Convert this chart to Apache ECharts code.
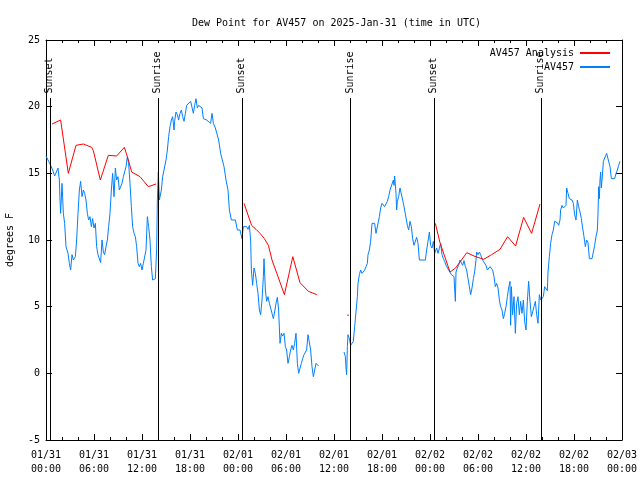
<!DOCTYPE html>
<html>
<head>
<meta charset="utf-8">
<script src="https://cdn.jsdelivr.net/npm/echarts@6/dist/echarts.min.js"></script>
<style>html,body{margin:0;padding:0;background:#fff}#c{width:640px;height:480px}</style>
</head>
<body>
<div id="c"></div>
<script>
// ---- data (hours since 2025-01-31 00:00 UTC) ----
var xTickLabels = ['01/31\n00:00','01/31\n06:00','01/31\n12:00','01/31\n18:00','02/01\n00:00','02/01\n06:00','02/01\n12:00','02/01\n18:00','02/02\n00:00','02/02\n06:00','02/02\n12:00','02/02\n18:00','02/03\n00:00'];
var yTicks = [-5, 0, 5, 10, 15, 20, 25];

var sunHours = [0.54, 14.04, 24.54, 38.09, 48.54, 61.92];
var sunNames = ['Sunset', 'Sunrise', 'Sunset', 'Sunrise', 'Sunset', 'Sunrise'];

var analysisHours = [0.75,1.83,2.79,3.75,4.67,5.71,5.92,6.79,7.79,8.83,9.79,10.17,10.71,11.75,12.79,13.75, 19,
  24.75,25.7,26.25,26.75,27.3,27.8,28.25,28.85,29.8,30.85,31.75,32.8,33.85, 40,
  48.67,49.25,50.5,51.2,52.6,53.5,54.7,55.7,56.75,57.7,58.7,59.7,60.7,61.75];
var analysisValues = [18.7,19.0,15.0,17.1,17.2,16.95,16.7,14.5,16.35,16.3,16.95,16.25,15.1,14.75,14.0,14.2, null,
  12.75,11.1,10.8,10.5,10.1,9.6,8.5,7.5,5.9,8.75,6.8,6.15,5.9, null,
  11.25,9.8,7.6,7.9,9.05,8.8,8.55,8.9,9.3,10.25,9.55,11.7,10.5,12.7];
var analysisLoneHour = [37.75];
var analysisLoneValue = [4.35];

var obsHours = [0.0,0.08,0.33,0.58,0.83,1.08,1.33,1.5,1.67,1.75,1.83,2.0,2.17,2.33,2.5,2.75,2.92,3.08,3.25,3.42,3.67,3.83,4.0,4.17,4.33,4.5,4.67,4.83,5.0,5.17,5.33,5.5,5.67,5.83,6.0,6.17,6.33,6.5,6.67,6.83,7.0,7.17,7.33,7.5,7.67,7.83,8.0,8.17,8.33,8.5,8.67,8.83,9.0,9.17,9.33,9.5,9.67,9.83,10.0,10.17,10.33,10.5,10.67,10.83,11.0,11.17,11.33,11.5,11.67,11.83,12.0,12.17,12.33,12.5,12.67,12.83,13.0,13.17,13.33,13.5,13.67,13.83,13.92,14.04,14.17,14.25,14.42,14.58,14.75,15.0,15.17,15.33,15.5,15.67,15.83,16.0,16.08,16.25,16.42,16.58,16.75,16.92,17.08,17.25,17.42,17.58,17.83,18.08,18.25,18.42,18.58,18.75,18.92,19.08,19.25,19.5,19.67,19.88,20.08,20.33,20.58,20.75,20.92,21.17,21.33,21.58,21.83,22.08,22.25,22.5,22.75,22.92,23.17,23.67,23.92,24.25,24.42,24.5,24.67,24.83,25.08,25.25,25.42,25.58,25.67,25.83,26.0,26.17,26.33,26.5,26.67,26.83,27.0,27.17,27.25,27.42,27.58,27.75,27.92,28.08,28.25,28.42,28.58,28.75,28.92,29.08,29.25,29.42,29.58,29.75,29.92,30.08,30.25,30.42,30.58,30.75,30.92,31.08,31.25,31.42,31.58,31.75,31.92,32.08,32.25,32.42,32.58,32.75,32.92,33.08,33.25,33.42,33.58,33.75,33.92,34.08,
  35.5,
  37.25,37.42,37.5,37.58,37.67,37.75,37.92,38.08,38.25,38.42,38.58,38.75,38.92,39.0,39.17,39.33,39.5,39.67,39.83,40.0,40.17,40.25,40.42,40.58,40.75,40.92,41.08,41.25,41.5,41.67,41.83,42.0,42.17,42.33,42.5,42.67,42.83,43.0,43.17,43.25,43.42,43.5,43.58,43.75,43.83,43.92,44.08,44.25,44.5,44.67,44.83,45.08,45.17,45.33,45.5,45.67,45.83,46.0,46.17,46.33,46.5,46.67,47.0,47.42,47.58,47.75,47.92,48.08,48.25,48.42,48.58,48.67,48.83,49.0,49.17,49.33,49.5,49.67,49.83,50.0,50.17,50.33,50.5,50.67,50.83,51.0,51.17,51.25,51.42,51.58,51.75,51.92,52.08,52.25,52.42,52.58,52.75,52.92,53.08,53.25,53.42,53.58,53.75,53.83,54.0,54.17,54.33,54.5,54.67,54.83,55.0,55.17,55.33,55.5,55.67,55.83,56.0,56.17,56.33,56.5,56.67,56.83,57.0,57.17,57.33,57.5,57.67,57.83,58.0,58.08,58.17,58.33,58.5,58.67,58.83,59.0,59.17,59.33,59.5,59.67,59.83,60.0,60.17,60.33,60.5,60.67,60.83,61.0,61.17,61.33,61.5,61.67,61.83,62.0,62.17,62.33,62.5,62.67,62.75,62.92,63.08,63.25,63.42,63.58,63.75,63.92,64.08,64.25,64.33,64.5,64.67,64.83,65.0,65.08,65.25,65.42,65.58,65.75,65.92,66.08,66.25,66.42,66.58,66.75,66.92,67.08,67.25,67.42,67.58,67.75,67.92,68.25,68.42,68.58,68.75,68.92,69.0,69.08,69.17,69.25,69.33,69.42,69.58,69.67,69.92,70.08,70.33,70.5,70.67,71.08,71.25,71.42,71.58,71.75];
var obsValues = [16.3,16.25,15.9,15.6,15.25,14.8,14.95,15.4,14.5,13.0,12.0,14.25,12.0,11.25,9.5,9.0,8.25,7.75,8.9,8.5,8.75,10.0,12.0,13.75,14.4,13.25,13.75,13.5,13.0,12.0,11.5,11.75,11.0,11.6,10.9,11.25,9.5,8.9,8.75,8.3,10.0,9.1,8.9,9.5,10.0,11.0,12.0,13.75,15.0,13.25,15.4,14.5,14.75,13.75,13.9,14.25,14.75,15.1,15.5,16.25,15.75,14.25,12.5,11.0,10.5,10.25,9.5,8.25,8.0,8.25,7.75,8.25,8.2,9.25,11.75,11.0,10.0,8.0,7.0,6.9,7.1,9.25,13.0,15.1,13.0,12.9,13.75,14.75,15.25,16.0,16.75,17.75,18.5,19.0,19.25,18.25,18.9,19.6,19.4,19.0,19.5,19.75,19.25,18.9,19.5,20.1,20.25,20.4,20.3,19.5,20.1,20.6,19.9,20.1,20.0,19.9,19.1,19.1,19.0,18.9,18.75,19.5,18.75,18.4,18.3,17.5,16.5,16.5,15.5,14.5,13.75,12.25,11.5,11.5,10.75,10.75,10.6,10.1,11.0,11.0,11.0,10.8,11.1,10.0,7.75,6.6,7.9,7.5,6.75,6.0,4.75,4.4,5.5,7.25,8.6,6.25,5.4,5.75,5.25,4.9,4.5,4.1,4.6,5.25,5.7,4.75,2.25,3.0,2.8,3.0,2.0,1.75,0.75,1.25,1.75,2.1,1.75,2.25,3.0,0.75,0.0,-0.1,0.75,1.1,1.4,1.5,1.75,2.9,2.8,1.75,0.5,-0.25,-0.4,0.75,0.6,0.55,
  null,
  1.6,1.25,0.4,-0.1,2.0,2.9,2.6,2.1,2.1,2.4,3.5,4.6,5.75,6.75,7.4,7.75,7.5,7.6,7.75,8.0,8.25,8.9,9.25,9.9,11.25,11.4,11.25,10.5,10.5,11.75,12.4,12.75,12.75,12.5,12.6,12.9,13.25,13.75,13.6,13.9,14.5,14.1,14.8,13.5,12.25,12.9,13.25,13.9,13.9,12.75,12.25,12.25,11.1,10.75,11.4,11.0,10.1,9.6,9.6,10.2,9.75,8.5,8.5,8.5,9.25,9.9,10.6,9.6,9.4,9.9,9.0,8.9,9.4,9.0,9.0,9.75,8.9,8.6,8.4,8.1,8.0,7.75,7.6,7.4,7.5,7.25,5.4,7.6,7.9,8.1,8.5,8.55,8.1,8.45,8.0,7.75,7.1,6.5,5.9,6.4,7.1,7.6,8.5,9.1,8.9,9.1,8.9,8.6,8.4,8.5,8.1,7.75,7.75,8.0,8.1,7.75,7.25,6.5,6.75,6.4,5.5,5.0,4.75,4.1,4.5,5.0,5.75,6.4,6.9,3.6,6.5,4.4,5.75,3.0,5.25,5.75,4.4,5.4,4.5,5.5,3.9,3.25,5.4,6.9,5.4,4.25,4.6,5.0,5.4,4.4,3.75,5.9,5.5,5.5,5.75,6.5,6.6,6.2,7.6,8.75,9.75,10.4,10.75,11.4,11.3,11.3,11.1,11.5,12.25,12.6,12.4,12.25,12.6,13.9,13.5,13.1,13.1,13.0,12.75,11.9,11.5,13.0,12.5,12.1,11.6,10.9,10.25,9.5,10.0,9.8,8.6,8.6,9.1,9.6,10.25,10.75,12.0,14.0,13.1,14.5,15.1,13.9,15.1,15.9,16.0,16.5,16.6,15.5,14.6,14.6,15.0,15.25,15.6,15.9];

// ---- build ----
function pairs(xs, ys) {
  var out = [];
  for (var i = 0; i < xs.length; i++) out.push([xs[i], ys[i] === null ? '-' : ys[i]]);
  return out;
}
var FONT = 'DejaVu Sans Mono';
var yMin = yTicks[0], yMax = yTicks[yTicks.length - 1];
var sunLineTop = 20.65;
var sunLabelY = 20.95;

var markData = sunHours.map(function (h) {
  return [{ coord: [h, yMin] }, { coord: [h, sunLineTop] }];
});
var sunLabelData = sunHours.map(function (h, i) {
  return { value: [h, sunLabelY], name: sunNames[i] };
});

var axisCommon = {
  type: 'value', min: 0, max: 72, interval: 6,
  axisLine: { show: true, onZero: false, lineStyle: { color: '#000', width: 1 } },
  axisTick: { show: true, inside: true, length: 6, lineStyle: { color: '#000' } },
  minorTick: { show: true, splitNumber: 3, length: 3, lineStyle: { color: '#000' } },
  splitLine: { show: false }
};
var yCommon = {
  type: 'value', min: yMin, max: yMax, interval: 5,
  axisLine: { show: true, onZero: false, lineStyle: { color: '#000', width: 1 } },
  axisTick: { show: true, inside: true, length: 6, lineStyle: { color: '#000' } },
  splitLine: { show: false }
};

var chart = echarts.init(document.getElementById('c'), null, { renderer: 'canvas' });
chart.setOption({
  animation: false,
  backgroundColor: '#fff',
  textStyle: { fontFamily: FONT, color: '#000' },
  title: {
    text: 'Dew Point for AV457 on 2025-Jan-31 (time in UTC)',
    left: 187, top: 13,
    textStyle: { fontFamily: FONT, fontSize: 10, fontWeight: 'normal', color: '#000' }
  },
  legend: {
    orient: 'vertical', right: 24, top: 43, align: 'right',
    itemWidth: 30, itemHeight: 10, itemGap: 4,
    itemStyle: { opacity: 0 },
    textStyle: { fontFamily: FONT, fontSize: 10, color: '#000', padding: [0, 1, 0, 0] },
    data: ['AV457 Analysis', 'AV457']
  },
  grid: { left: 46, right: 18, top: 40, bottom: 40, containLabel: false, outerBoundsMode: 'none' },
  xAxis: [
    Object.assign({}, axisCommon, {
      position: 'bottom',
      axisLabel: {
        show: true, margin: 8, fontFamily: FONT, fontSize: 10, color: '#000', lineHeight: 14,
        formatter: function (v) { return xTickLabels[Math.round(v / 6)] || ''; }
      }
    }),
    Object.assign({}, axisCommon, { position: 'top', axisLabel: { show: false } })
  ],
  yAxis: [
    Object.assign({}, yCommon, {
      position: 'left',
      name: 'degrees F', nameLocation: 'middle', nameGap: 31, nameRotate: 90,
      nameTextStyle: { fontFamily: FONT, fontSize: 10, color: '#000' },
      axisLabel: { show: true, margin: 6, fontFamily: FONT, fontSize: 10, color: '#000' }
    }),
    Object.assign({}, yCommon, { position: 'right', axisLabel: { show: false } })
  ],
  series: [
    {
      name: 'AV457 Analysis', type: 'line', data: pairs(analysisHours, analysisValues),
      symbol: 'none', lineStyle: { color: '#ff0000', width: 1 }, itemStyle: { color: '#ff0000' },
      connectNulls: false, z: 3
    },
    {
      name: 'AV457', type: 'line', data: pairs(obsHours, obsValues),
      symbol: 'none', lineStyle: { color: '#0080ff', width: 1 }, itemStyle: { color: '#0080ff' },
      connectNulls: false, z: 2,
      markLine: {
        silent: true, symbol: ['none', 'none'], animation: false,
        label: { show: false },
        lineStyle: { color: '#000', width: 1, type: 'solid' },
        data: markData
      }
    },
    {
      name: 'lone', type: 'scatter', data: pairs(analysisLoneHour, analysisLoneValue),
      symbol: 'rect', symbolSize: [1.5, 1.5], itemStyle: { color: '#ff0000' }, z: 3
    },
    {
      name: 'sun', type: 'scatter', data: sunLabelData,
      symbol: 'rect', symbolSize: 1, itemStyle: { color: 'rgba(0,0,0,0)' }, silent: true, z: 5,
      label: {
        show: true, position: [0, 0], rotate: 90, align: 'left', verticalAlign: 'middle',
        formatter: function (p) { return p.name; },
        fontFamily: FONT, fontSize: 10, color: '#000', opacity: 1
      }
    }
  ]
});
</script>
</body>
</html>
